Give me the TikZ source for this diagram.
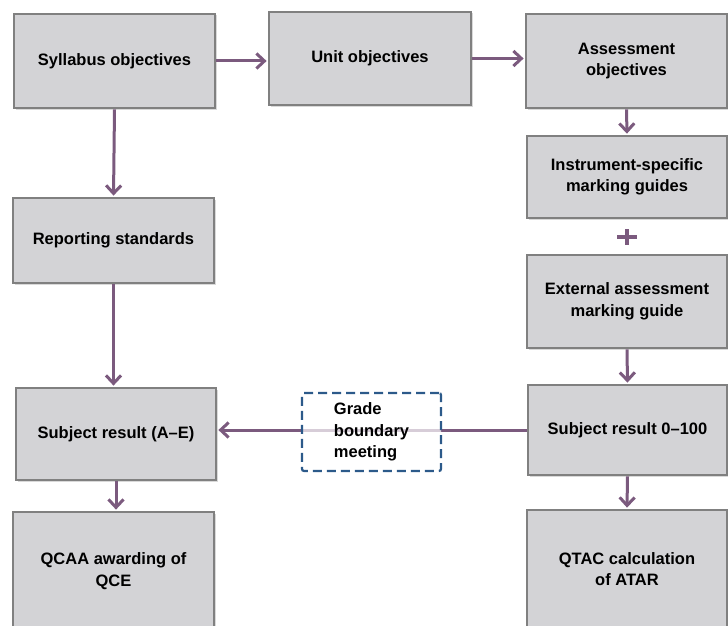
\documentclass[tikz,border=0pt]{standalone}
\usepackage{fontspec}
\setmainfont{Liberation Sans}
\usetikzlibrary{arrows.meta,shadows}
\definecolor{boxfill}{RGB}{211,211,214}
\definecolor{boxline}{RGB}{128,128,128}
\definecolor{flowline}{RGB}{123,90,126}
\definecolor{meetline}{RGB}{44,90,138}
\begin{document}
\begin{tikzpicture}[
                x=1pt, y=-1pt,
                stage/.style = {draw=boxline, line width=2.8pt, fill=boxfill, inner sep=0pt, align=center,
                    font=\bfseries\fontsize{16.5}{21.5}\selectfont,
                    drop shadow={shadow xshift=1.5pt, shadow yshift=-1.5pt, opacity=0.3}},
                flow/.style = {draw=flowline, line width=3pt, shorten >=1pt, -{Straight Barb[length=8pt, width=15pt]}},
                meeting/.style = {draw=meetline, line width=2.2pt, dash pattern=on 9pt off 5pt, rounded corners=2pt,
                    fill=white, fill opacity=0.7, text opacity=1, inner sep=0pt, align=left,
                    font=\bfseries\fontsize{16.5}{21.5}\selectfont},
            ]
            \useasboundingbox (0,0) rectangle (728,626);
            \clip (0,0) rectangle (728,626);
            \node (syll) at (114.5,61) [stage, minimum width=201pt, minimum height=94pt] {Syllabus objectives};
            \node (unit) at (370,58.5) [stage, minimum width=202pt, minimum height=93pt] {Unit objectives};
            \node (assess) at (626.5,61) [stage, minimum width=201pt, minimum height=94pt] {Assessment\\objectives};
            \node (instr) at (627,177) [stage, minimum width=200pt, minimum height=82pt] {Instrument-specific\\marking guides};
            \node (ext) at (627,301.5) [stage, minimum width=200pt, minimum height=93pt] {External assessment\\marking guide};
            \node (res100) at (627.5,430) [stage, minimum width=199pt, minimum height=90pt] {Subject result 0–100};
            \node (qtac) at (627,569) [stage, minimum width=200pt, minimum height=118pt] {QTAC calculation\\of ATAR};
            \node (report) at (113.5,240.5) [stage, minimum width=201pt, minimum height=85pt] {Reporting standards};
            \node (resae) at (116,434) [stage, minimum width=200pt, minimum height=92pt] {Subject result (A–E)};
            \node (qcaa) at (113.5,571) [stage, minimum width=201pt, minimum height=118pt] {QCAA awarding of\\QCE};

            \draw[flow] (syll.east) -- (syll.east -| unit.west);
            \draw[flow] (unit.east) -- (unit.east -| assess.west);
            \draw[flow] (syll.south) -- (report.north);
            \draw[flow] (report.south) -- (report.south |- resae.north);
            \draw[flow] (assess.south) -- (instr.north);
            \draw[flow] (ext.south) -- (res100.north);
            \draw[flow] (res100.west) -- (res100.west -| resae.east);
            \draw[flow] (resae.south) -- (resae.south |- qcaa.north);
            \draw[flow] (res100.south) -- (qtac.north);
            \draw[flowline, line width=4.5pt] (627,229) -- (627,245) (617,237) -- (637,237);

            \node (grade) at (371.5,432) [meeting, minimum width=139pt, minimum height=78pt] {Grade\\boundary\\meeting};
        \end{tikzpicture}
\end{document}
